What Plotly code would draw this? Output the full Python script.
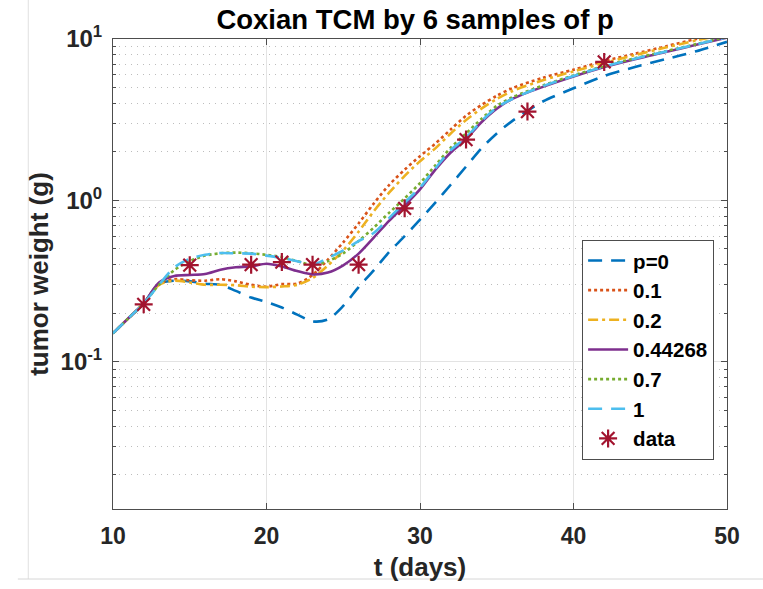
import plotly.graph_objects as go

# ---------------- data ----------------
t_days = [10, 11, 12, 13, 14, 15, 16, 17, 18, 19, 20, 21, 22, 23, 24, 25, 26, 27, 28, 29,
          30, 31, 32, 33, 34, 35, 36, 38, 40, 42, 44, 46, 48, 50]

w_p0 = [0.15, 0.186, 0.23, 0.305, 0.318, 0.315, 0.305, 0.30, 0.275, 0.25, 0.235, 0.217, 0.196,
        0.178, 0.183, 0.222, 0.29, 0.37, 0.48, 0.60, 0.76, 0.97, 1.25, 1.62, 2.1, 2.6, 3.1,
        4.1, 4.95, 5.9, 6.7, 7.5, 8.4, 9.6]
w_p01 = [0.15, 0.186, 0.23, 0.305, 0.325, 0.32, 0.318, 0.325, 0.315, 0.30, 0.292, 0.303, 0.305,
         0.345, 0.43, 0.55, 0.72, 0.96, 1.25, 1.55, 1.88, 2.25, 2.75, 3.35, 3.9, 4.45, 4.95,
         5.75, 6.45, 7.3, 8.1, 9.0, 10.0, 10.9]
w_p02 = [0.15, 0.186, 0.23, 0.30, 0.318, 0.31, 0.30, 0.30, 0.298, 0.292, 0.29, 0.293, 0.30,
         0.33, 0.395, 0.49, 0.64, 0.86, 1.12, 1.42, 1.75, 2.1, 2.6, 3.15, 3.7, 4.25, 4.75,
         5.55, 6.3, 7.1, 7.95, 8.85, 9.8, 10.7]
w_p044 = [0.15, 0.186, 0.23, 0.31, 0.34, 0.345, 0.35, 0.372, 0.385, 0.39, 0.405, 0.39, 0.365,
          0.348, 0.357, 0.396, 0.468, 0.59, 0.75, 0.93, 1.17, 1.55, 1.98, 2.4, 3.05, 3.7, 4.25,
          5.05, 5.85, 6.7, 7.5, 8.3, 9.2, 10.2]
w_p07 = [0.15, 0.186, 0.23, 0.30, 0.37, 0.42, 0.455, 0.47, 0.475, 0.47, 0.46, 0.445, 0.42,
         0.40, 0.42, 0.47, 0.56, 0.68, 0.84, 1.03, 1.28, 1.65, 2.12, 2.6, 3.2, 3.85, 4.35,
         5.15, 5.95, 6.8, 7.6, 8.4, 9.3, 10.3]
w_p1 = [0.15, 0.186, 0.23, 0.30, 0.385, 0.435, 0.46, 0.472, 0.47, 0.468, 0.455, 0.44, 0.42,
        0.40, 0.44, 0.49, 0.56, 0.63, 0.78, 0.97, 1.2, 1.58, 2.05, 2.45, 3.1, 3.75, 4.25,
        5.1, 5.9, 6.75, 7.55, 8.35, 9.25, 10.25]

t_data = [12, 15, 19, 21, 23, 26, 29, 33, 37, 42]
w_data = [0.227, 0.397, 0.40, 0.415, 0.40, 0.40, 0.893, 2.38, 3.55, 7.21]

series_names = ["p=0", "0.1", "0.2", "0.44268", "0.7", "1"]
series_values = [w_p0, w_p01, w_p02, w_p044, w_p07, w_p1]
series_colors = ["#0072BD", "#D95319", "#EDB120", "#7E2F8E", "#77AC30", "#4DBEEE"]
series_dash = ["14px,9px", "dot", "10px,4px,3px,4px", "solid", "dot", "14px,9px"]

y_tickvals = [0.1, 1, 10]
y_ticktext = ["10<sup>-1</sup>", "10<sup>0</sup>", "10<sup>1</sup>"]
x_tickvals = [10, 20, 30, 40, 50]

FONT = "Liberation Sans, Arial, Helvetica, sans-serif"

fig = go.Figure()
for name, vals, col, dash in zip(series_names, series_values, series_colors, series_dash):
    fig.add_trace(go.Scatter(
        x=t_days, y=vals, mode="lines", name=name,
        line=dict(color=col, width=2.6, dash=dash, shape="spline", smoothing=0.8),
    ))
fig.add_trace(go.Scatter(
    x=t_data, y=w_data, mode="markers", name="data",
    marker=dict(symbol="asterisk-open", size=15, color="#A2142F",
                line=dict(color="#A2142F", width=2.2)),
))

axis_col = "#4d4d4d"
fig.update_layout(
    width=763, height=589,
    margin=dict(l=113, r=36, t=39, b=77),
    paper_bgcolor="white", plot_bgcolor="white",
    font=dict(family=FONT, color="#000"),
    title=dict(text="Coxian TCM by 6 samples of p", xref="paper", x=0.492, xanchor="center",
               y=0.967, yanchor="middle",
               font=dict(size=27.5, family=FONT, weight="bold", color="#000")),
    showlegend=True,
    legend=dict(x=0.979, xanchor="right", y=0.573, yanchor="top",
                bgcolor="white", bordercolor=axis_col, borderwidth=1,
                font=dict(size=20.5, family=FONT, weight="bold", color="#000"),
                itemwidth=40, tracegroupgap=0),
    xaxis=dict(
        range=[10, 50], tickvals=x_tickvals, ticks="inside", ticklen=6,
        tickcolor=axis_col, showline=True, linecolor=axis_col, linewidth=1,
        mirror="ticks", showgrid=True, gridcolor="#e3e3e3", gridwidth=1,
        zeroline=False, ticklabelstandoff=6,
        tickfont=dict(size=23, family=FONT, weight="bold", color="#262626"),
        title=dict(text="t (days)", standoff=10,
                   font=dict(size=26, family=FONT, weight="bold", color="#262626")),
    ),
    yaxis=dict(
        type="log", range=[-1.912, 1.0], tickvals=y_tickvals, ticktext=y_ticktext,
        ticks="inside", ticklen=6, tickcolor=axis_col, showline=True,
        linecolor=axis_col, linewidth=1, mirror="ticks",
        showgrid=True, gridcolor="#e3e3e3", gridwidth=1, zeroline=False,
        ticklabelstandoff=5,
        tickfont=dict(size=24, family=FONT, weight="bold", color="#262626"),
        title=dict(text="tumor weight (g)", standoff=4,
                   font=dict(size=26, family=FONT, weight="bold", color="#262626")),
        minor=dict(dtick="D1", ticks="inside", ticklen=3, tickcolor=axis_col,
                   showgrid=True, gridcolor="#bdbdbd", griddash="1px,5px", gridwidth=1),
    ),
    shapes=[
        dict(type="line", xref="paper", yref="paper", x0=-0.138, x1=-0.138, y0=1.09, y1=-0.149,
             line=dict(color="#e0e0e0", width=1)),
        dict(type="line", xref="paper", yref="paper", x0=-0.155, x1=1.06, y0=-0.149, y1=-0.149,
             line=dict(color="#d6d6d6", width=1)),
    ],
)

fig.write_html("out.html")
